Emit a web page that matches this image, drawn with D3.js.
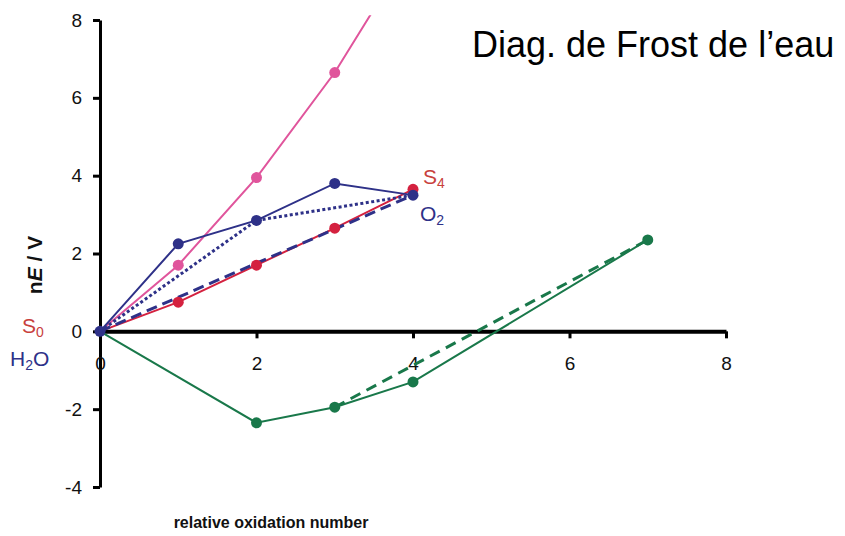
<!DOCTYPE html>
<html>
<head>
<meta charset="utf-8">
<script src="https://cdn.jsdelivr.net/npm/d3@7"></script>
<style>
  body { margin: 0; background: #fff; }
  svg { font-family: "Liberation Sans", Arial, sans-serif; }
</style>
</head>
<body>
<div id="chart"></div>
<script>
// Frost diagram data (oxidation number, nE / V)
var xTicks = [0, 2, 4, 6, 8];
var yTicks = [-4, -2, 0, 2, 4, 6, 8];

var pinkPts = [[0, 0], [1, 1.7], [2, 3.95], [3, 6.65], [4, 9.9]];
var redPts = [[0, 0], [1, 0.75], [2, 1.7], [3, 2.65], [4, 3.65]];
var navyPts = [[0, 0], [1, 2.25], [2, 2.85], [3, 3.8], [4, 3.5]];
var navyDotted = [[0, 0], [2, 2.85], [4, 3.5]];
var navyDashed = [[0, 0], [4, 3.5]];
var greenPts = [[0, 0], [2, -2.35], [3, -1.95], [4, -1.3], [7, 2.35]];
var greenDashed = [[3, -1.95], [7, 2.35]];

var pink = "#e0559c", red = "#d4213f", navy = "#2e3188", green = "#19784a";
var labelRed = "#c8403c";

var width = 845, height = 536;

var svg = d3.select("#chart").append("svg")
	.attr("width", width)
	.attr("height", height);

// scales
var x = d3.scaleLinear().domain([0, 8]).range([100, 726]);
var y = d3.scaleLinear().domain([-4, 8]).range([487, 20]);

svg.append("clipPath").attr("id", "plotclip")
	.append("rect")
	.attr("x", 0).attr("y", y(8.12))
	.attr("width", width).attr("height", height);

// plain hyphen minus like the original
var fmt = function(d) { return String(d); };

// y axis
var yAxis = svg.append("g")
	.attr("transform", "translate(" + x(0) + ",0)")
	.call(d3.axisLeft(y).tickValues(yTicks).tickFormat(fmt).tickSize(7).tickSizeOuter(0).tickPadding(11));
yAxis.select(".domain").attr("stroke-width", 3);
yAxis.selectAll(".tick line").attr("stroke-width", 3);
yAxis.selectAll("text").style("font-size", "19px").attr("fill", "#111");

// x axis through zero
var xAxis = svg.append("g")
	.attr("transform", "translate(0," + y(0) + ")")
	.call(d3.axisBottom(x).tickValues(xTicks).tickFormat(fmt).tickSize(7).tickSizeOuter(0).tickPadding(18));
xAxis.select(".domain").attr("stroke-width", 4);
xAxis.selectAll(".tick line").attr("stroke-width", 3);
xAxis.selectAll("text").style("font-size", "19px").attr("fill", "#111");

var line = d3.line()
	.x(function(d) { return x(d[0]); })
	.y(function(d) { return y(d[1]); });

var plot = svg.append("g").attr("clip-path", "url(#plotclip)");

function drawLine(pts, col, dash, w) {
	plot.append("path")
		.datum(pts)
		.attr("d", line)
		.attr("fill", "none")
		.attr("stroke", col)
		.attr("stroke-width", w)
		.attr("stroke-dasharray", dash);
}

function drawDots(pts, col) {
	plot.selectAll(null)
		.data(pts.slice(1))
		.enter().append("circle")
		.attr("cx", function(d) { return x(d[0]); })
		.attr("cy", function(d) { return y(d[1]); })
		.attr("r", 5.5)
		.attr("fill", col);
}

drawLine(greenDashed, green, "11,7", 3);
drawLine(greenPts, green, null, 2);
drawLine(pinkPts, pink, null, 2);
drawLine(redPts, red, null, 2);
drawLine(navyDashed, navy, "11,6", 3);
drawLine(navyDotted, navy, "3,2.5", 3);
drawLine(navyPts, navy, null, 2);

drawDots(greenPts, green);
drawDots(pinkPts, pink);
drawDots(redPts, red);
drawDots(navyPts, navy);
// origin point
plot.append("circle")
	.attr("cx", x(0)).attr("cy", y(0)).attr("r", 5.5).attr("fill", navy);

// species labels
function species(tx, ty, main, sub, rest, col) {
	var t = svg.append("text")
		.attr("x", tx).attr("y", ty)
		.attr("font-size", 21)
		.attr("fill", col);
	t.append("tspan").text(main);
	t.append("tspan").attr("font-size", 14).attr("dy", 4).text(sub);
	if (rest) t.append("tspan").attr("dy", -4).text(rest);
}
species(423, 184, "S", "4", null, labelRed);
species(420, 221, "O", "2", null, navy);
species(22, 333, "S", "0", null, labelRed);
species(10, 366, "H", "2", "O", navy);

// axis titles
var yl = svg.append("text")
	.attr("transform", "translate(42,265) rotate(-90)")
	.attr("text-anchor", "middle")
	.attr("font-size", 21)
	.attr("font-weight", "bold")
	.attr("fill", "#111");
yl.append("tspan").text("n");
yl.append("tspan").attr("font-style", "italic").text("E");
yl.append("tspan").text(" / V");

svg.append("text")
	.attr("x", 271).attr("y", 528)
	.attr("text-anchor", "middle")
	.attr("font-size", 16)
	.attr("font-weight", "bold")
	.attr("fill", "#111")
	.text("relative oxidation number");

// title
svg.append("text")
	.attr("x", 472).attr("y", 57)
	.attr("font-size", 36)
	.attr("fill", "#000")
	.text("Diag. de Frost de l\u2019eau");
</script>
</body>
</html>
